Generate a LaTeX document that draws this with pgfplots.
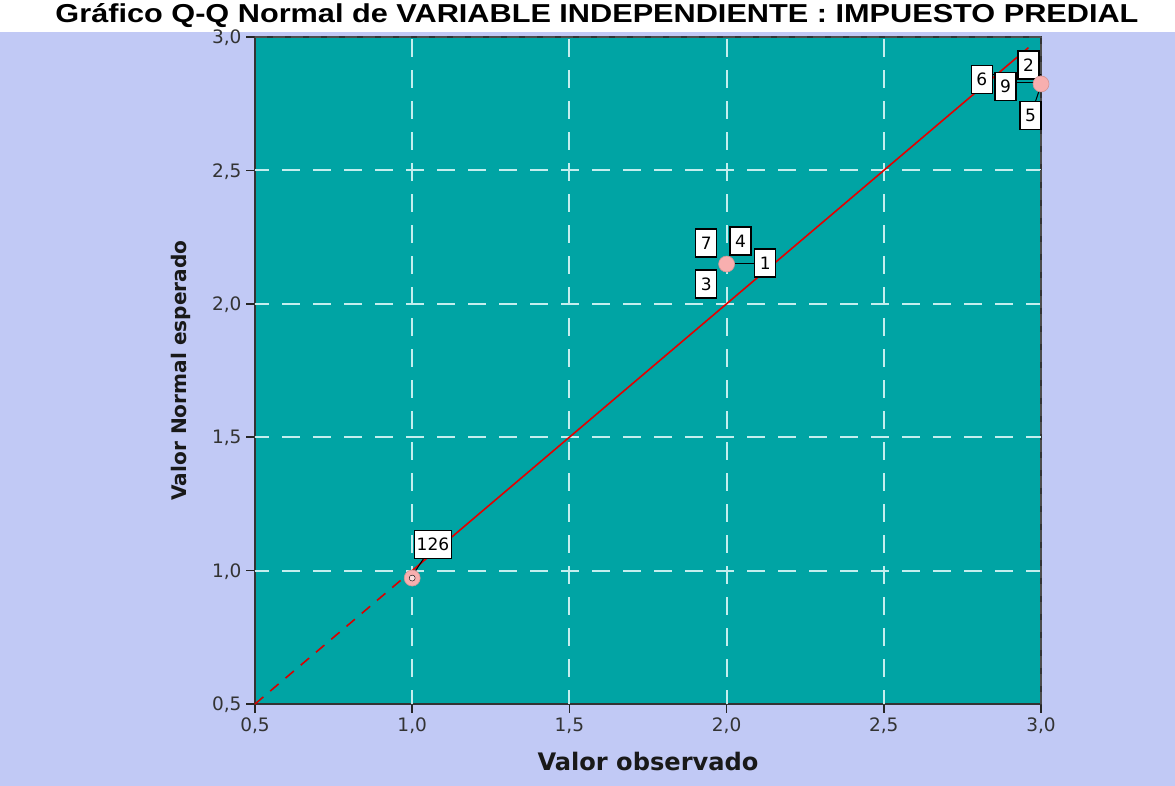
\documentclass[border=0pt]{standalone}
\usepackage{pgfplots}
\pgfplotsset{compat=1.18}
\usepackage{fontspec}
\setmainfont{Liberation Sans}
\newfontfamily\dvs{DejaVu Sans}
\definecolor{lav}{RGB}{193,201,245}
\definecolor{tealbg}{RGB}{0,164,164}
\definecolor{pinkm}{RGB}{248,175,175}
\definecolor{gridc}{RGB}{196,238,238}
\begin{document}
\begin{tikzpicture}[x=1pt,y=1pt]
\useasboundingbox (0,0) rectangle (1175,786);
\fill[white] (0,0) rectangle (1175,786);
\fill[lav] (0,0) rectangle (1175,754);
\node[font=\bfseries, anchor=base, inner sep=0pt] at (597,763) {\resizebox{1083pt}{19pt}{Gráfico Q-Q Normal de VARIABLE INDEPENDIENTE : IMPUESTO PREDIAL}};
\begin{axis}[
  at={(255pt,82pt)}, anchor=south west,
  width=786pt, height=667pt, scale only axis,
  xmin=0.5, xmax=3.0, ymin=0.5, ymax=3.0,
  xtick={0.5,1,1.5,2,2.5,3}, ytick={0.5,1,1.5,2,2.5,3},
  xtick pos=bottom, ytick pos=left,
  tick align=outside, major tick length=9pt,
  tick style={black!85, line width=1.6pt},
  axis line style={black!80, line width=1.5pt},
  axis background/.style={fill=tealbg},
  /pgf/number format/.cd, use comma, fixed, fixed zerofill, precision=1, assume math mode=true,
  /pgfplots/.cd,
  ticklabel style={font=\dvs\fontsize{18.5}{19}\selectfont, text=black!80},
  xticklabel style={yshift=-1pt},
  yticklabel style={xshift=-1pt, yshift=-1pt},
  xlabel={\resizebox{221pt}{!}{\dvs\bfseries Valor observado}},
  ylabel={\resizebox{260pt}{!}{\dvs\bfseries Valor Normal esperado}},
  label style={font=\dvs\fontsize{22}{22}\selectfont\bfseries, text=black!90},
  xlabel style={yshift=-12pt},
  ylabel style={yshift=14pt},
  clip=false,
]
% grid
\foreach \v in {1,1.5,2,2.5}{
  \edef\tmp{\noexpand\draw[gridc, line width=2pt, dash pattern=on 18pt off 13pt, dash phase=4pt] (axis cs:\v,0.5) -- (axis cs:\v,3);
  \noexpand\draw[gridc, line width=2pt, dash pattern=on 18pt off 13pt, dash phase=4pt] (axis cs:0.5,\v) -- (axis cs:3,\v);}\tmp
}
\draw[black!70, line width=1.2pt, dash pattern=on 12pt off 6pt] (axis cs:0.5,3) -- (axis cs:3,3);
\draw[black!70, line width=1.4pt, dash pattern=on 12pt off 6pt] (axis cs:3,0.5) -- (axis cs:3,3);
% reference line
\addplot[red!85!black, line width=1.6pt, dash pattern=on 11pt off 9pt] coordinates {(0.5,0.5) (1.0,1.0)};
\addplot[red!90!black, line width=1.6pt] coordinates {(1.0,1.0) (2.96,2.96)};
% connector lines
\draw[black, line width=1pt] (axis cs:2.0,2.15) -- (axis cs:2.12,2.15);
\draw[black, line width=1.5pt] (axis cs:2.87,2.83) -- (axis cs:3.0,2.83);
\draw[black, line width=1pt] (axis cs:2.8,2.86) -- (axis cs:3.0,2.86);
\draw[black, line width=1pt] (axis cs:3.0,2.82) -- (axis cs:2.98,2.75);
\draw[black, line width=1pt] (axis cs:1.0,0.98) -- (axis cs:1.05,1.07);
% data points
\addplot[only marks, mark=*, mark size=8pt, mark options={fill=pinkm, draw=pinkm!85!black, line width=0.6pt}] coordinates {
(1.0,0.972) (2.0,2.149) (3.0,2.824)};
\addplot[only marks, mark=*, mark size=3pt, mark options={fill=white!60!pinkm, draw=none}] coordinates {(1.0,0.972)};
% case labels
\tikzset{cl/.style={draw=black, fill=white, line width=1.3pt, inner sep=2pt, font=\dvs\fontsize{17}{17}\selectfont, minimum height=28pt, minimum width=21pt}}
\node[cl] at (axis cs:1.066,1.098) {126};
\node[cl] at (axis cs:1.935,2.228) {7};
\node[cl] at (axis cs:2.044,2.235) {4};
\node[cl] at (axis cs:2.123,2.153) {1};
\node[cl] at (axis cs:1.935,2.074) {3};
\node[cl] at (axis cs:2.812,2.840) {6};
\node[cl] at (axis cs:2.887,2.815) {9};
\node[cl] at (axis cs:2.960,2.895) {2};
\node[cl] at (axis cs:2.967,2.707) {5};
\end{axis}
\end{tikzpicture}
\end{document}
